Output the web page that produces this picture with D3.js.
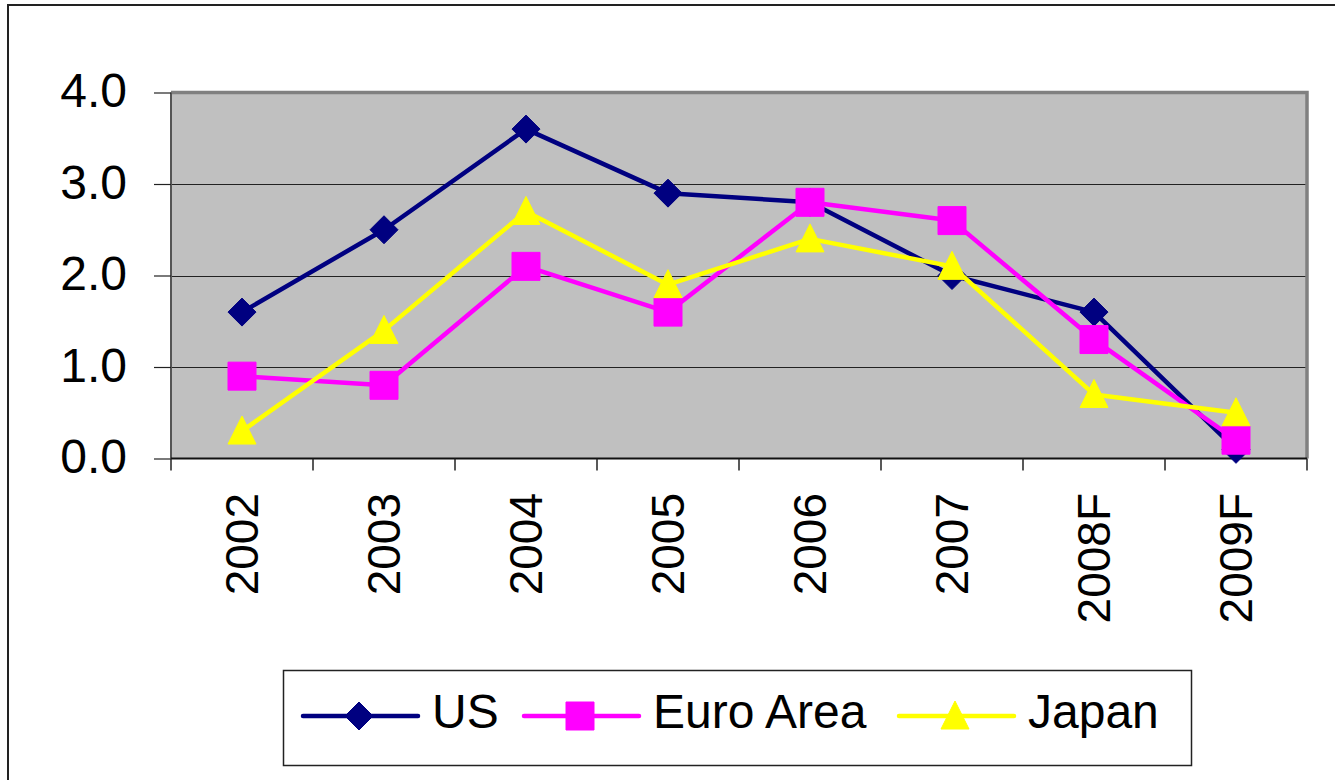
<!DOCTYPE html>
<html>
<head>
<meta charset="utf-8">
<script src="https://cdn.jsdelivr.net/npm/d3@7"></script>
<style>
  body { margin: 0; background: #fff; }
  svg { display: block; font-family: "Liberation Sans", Arial, sans-serif; }
</style>
</head>
<body>
<script>
// data
const years = ["2002", "2003", "2004", "2005", "2006", "2007", "2008F", "2009F"];
const us = [1.6, 2.5, 3.6, 2.9, 2.8, 2.0, 1.6, 0.1];
const euroArea = [0.9, 0.8, 2.1, 1.6, 2.8, 2.6, 1.3, 0.2];
const japan = [0.3, 1.4, 2.7, 1.9, 2.4, 2.1, 0.7, 0.5];
const yTicks = [0, 1, 2, 3, 4];

const series = [
  { name: "US", values: us, color: "#000080", symbol: d3.symbolDiamond },
  { name: "Euro Area", values: euroArea, color: "#FF00FF", symbol: d3.symbolSquare },
  { name: "Japan", values: japan, color: "#FFFF00", symbol: d3.symbolTriangle }
];

const width = 1335, height = 780;
const plot = { left: 171, right: 1307, top: 92.5, bottom: 458.5 };

const svg = d3.select("body").append("svg")
    .attr("width", width)
    .attr("height", height);

// outer chart frame
svg.append("rect")
    .attr("x", 8).attr("y", 5)
    .attr("width", 1400).attr("height", 900)
    .attr("fill", "#fff")
    .attr("stroke", "#222")
    .attr("stroke-width", 2);

const x = d3.scaleBand()
    .domain(years)
    .range([plot.left, plot.right])
    .padding(0);

const y = d3.scaleLinear()
    .domain([0, 4])
    .range([plot.bottom, plot.top]);

const cx = d => x(d) + x.bandwidth() / 2;

// plot area
svg.append("rect")
    .attr("x", plot.left).attr("y", plot.top)
    .attr("width", plot.right - plot.left)
    .attr("height", plot.bottom - plot.top)
    .attr("fill", "#C0C0C0");

// gridlines
svg.append("g")
  .selectAll("line")
  .data(yTicks.filter(d => d > 0 && d < 4))
  .join("line")
    .attr("x1", plot.left).attr("x2", plot.right)
    .attr("y1", d => Math.round(y(d)) + 0.5)
    .attr("y2", d => Math.round(y(d)) + 0.5)
    .attr("stroke", "#222")
    .attr("stroke-width", 1.2);

// plot border: grey top and right, darker left
svg.append("path")
    .attr("d", `M${plot.left},${plot.top} H${plot.right} V${plot.bottom}`)
    .attr("fill", "none")
    .attr("stroke", "#808080")
    .attr("stroke-width", 3.5);
svg.append("line")
    .attr("x1", plot.left).attr("x2", plot.left)
    .attr("y1", plot.top).attr("y2", plot.bottom)
    .attr("stroke", "#555")
    .attr("stroke-width", 2);

// y axis
const yAxis = svg.append("g")
    .attr("transform", `translate(${plot.left},0)`)
    .call(d3.axisLeft(y).tickValues(yTicks).tickFormat(d3.format(".1f")).tickSize(17).tickPadding(27));
yAxis.select(".domain").remove();
yAxis.selectAll(".tick line").attr("stroke", "#222").attr("stroke-width", 1.2);
yAxis.selectAll(".tick text")
    .attr("font-size", 48)
    .attr("font-family", "Liberation Sans, Arial, sans-serif")
    .attr("fill", "#000")
    .attr("dy", "0.3em");

// x axis: line + ticks at band edges
const xg = svg.append("g");
xg.append("line")
    .attr("x1", plot.left).attr("x2", plot.right)
    .attr("y1", plot.bottom).attr("y2", plot.bottom)
    .attr("stroke", "#111")
    .attr("stroke-width", 2);
xg.selectAll("line.tick")
  .data(years.concat(["end"]))
  .join("line")
    .attr("class", "tick")
    .attr("x1", (d, i) => i < years.length ? x(d) : plot.right)
    .attr("x2", (d, i) => i < years.length ? x(d) : plot.right)
    .attr("y1", plot.bottom)
    .attr("y2", plot.bottom + 12)
    .attr("stroke", "#222")
    .attr("stroke-width", 1.5);
xg.selectAll("text")
  .data(years)
  .join("text")
    .attr("transform", d => `translate(${cx(d)},493) rotate(-90)`)
    .attr("text-anchor", "end")
    .attr("dy", "0.35em")
    .attr("font-size", 46)
    .attr("fill", "#000")
    .text(d => d);

// lines and markers
const line = d3.line()
    .x((d, i) => cx(years[i]))
    .y(d => y(d));

const markerSize = { "US": 28 * 28 / 2 * 1.15, "Euro Area": 28 * 28, "Japan": 28 * 28 * 0.433 * 1.33 };

function markerPath(s) {
  if (s.symbol === d3.symbolDiamond) {
    return "M0,-14 L14,0 L0,14 L-14,0 Z";
  }
  if (s.symbol === d3.symbolSquare) {
    return "M-14,-14 H14 V14 H-14 Z";
  }
  return "M0,-15 L14,13 L-14,13 Z";
}

series.forEach(s => {
  svg.append("path")
      .attr("d", line(s.values))
      .attr("fill", "none")
      .attr("stroke", s.color)
      .attr("stroke-width", 4.5)
      .attr("stroke-linejoin", "round");
  svg.append("g")
    .selectAll("path")
    .data(s.values)
    .join("path")
      .attr("transform", (d, i) => `translate(${cx(years[i])},${y(d)})`)
      .attr("d", markerPath(s))
      .attr("fill", s.color)
      .attr("stroke", s.color)
      .attr("stroke-width", 1)
      .attr("stroke-linejoin", "round");
});

// legend
const legend = svg.append("g");
legend.append("rect")
    .attr("x", 283.5).attr("y", 670.5)
    .attr("width", 908).attr("height", 95)
    .attr("fill", "#fff")
    .attr("stroke", "#222")
    .attr("stroke-width", 1.5);

const legendX = [303, 524, 899];
const item = legend.selectAll("g.item")
  .data(series)
  .join("g")
    .attr("class", "item")
    .attr("transform", (d, i) => `translate(${legendX[i]},716)`);
item.append("line")
    .attr("x1", 0).attr("x2", 115)
    .attr("stroke", d => d.color)
    .attr("stroke-width", 4.5)
    .attr("stroke-linecap", "round");
item.append("path")
    .attr("transform", "translate(56,0)")
    .attr("d", d => markerPath(d))
    .attr("fill", d => d.color)
    .attr("stroke", d => d.color)
    .attr("stroke-width", 1);
item.append("text")
    .attr("x", 129)
    .attr("y", 12)
    .attr("font-size", 48)
    .attr("fill", "#000")
    .text(d => d.name);
</script>
</body>
</html>
